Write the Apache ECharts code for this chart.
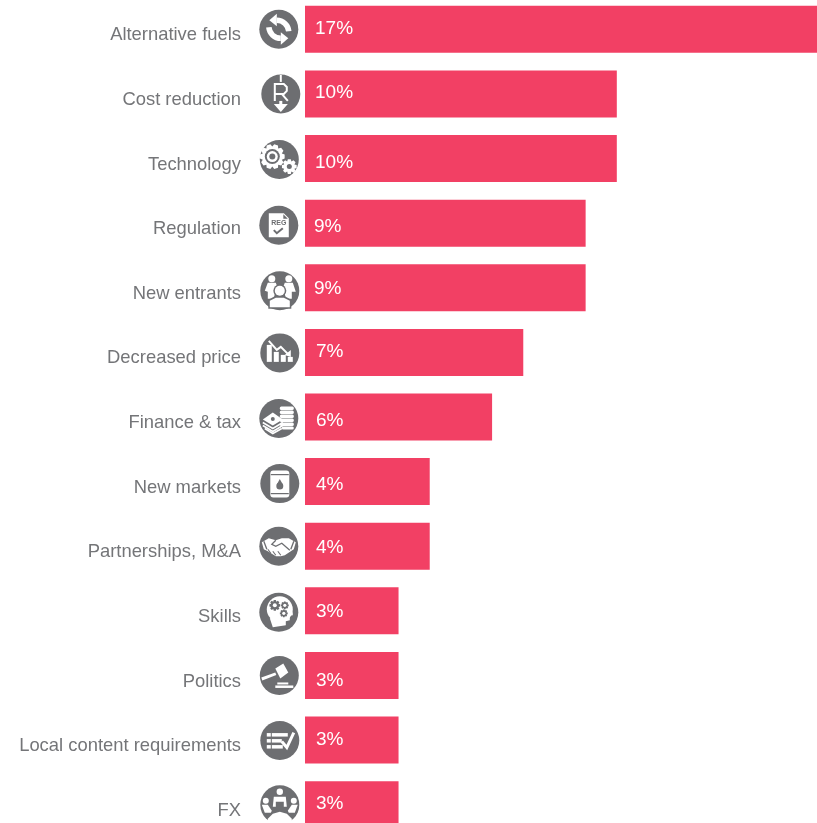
<!DOCTYPE html>
<html><head><meta charset="utf-8">
<style>html,body{margin:0;padding:0;background:#fff;overflow:hidden}#c{width:817px;height:823px}</style>
<script src="https://cdn.jsdelivr.net/npm/echarts@6/dist/echarts.min.js"></script>
</head><body><div id="c"></div>
<script>
const categories = ['Alternative fuels','Cost reduction','Technology','Regulation','New entrants','Decreased price','Finance & tax','New markets','Partnerships, M&A','Skills','Politics','Local content requirements','FX'];
const values = [17,10,10,9,9,7,6,4,4,3,3,3,3];
const labelNudgeY = [-1,-1,4.5,4,0.5,-1,4,3.5,2,0.5,5.7,0,-0.5];
const labelNudgeX = [0,0,0,-1,-1,1,1,1,1,1,1,1,1];
const iconNudge = [[0,0],[2,0],[0.5,1],[0,2],[1,3],[1,0.5],[0,1.5],[1,2],[0,0],[0,1.5],[0.5,0],[1,0.5],[1,0]];

const W='#fff', G='#6d6e71', PINK='#f24064';
const P=(pts,fill=W)=>({type:'polygon',shape:{points:pts},style:{fill}});
const R=(x,y,w,h,fill=W,r=0)=>({type:'rect',shape:{x,y,width:w,height:h,r},style:{fill}});
const C=(cx,cy,r,fill=W)=>({type:'circle',shape:{cx,cy,r},style:{fill}});
const L=(pts,lw=2,stroke=W)=>({type:'polyline',shape:{points:pts},style:{stroke,lineWidth:lw,fill:'none'}});
const A=(cx,cy,r,s,e,lw,stroke=W)=>({type:'arc',shape:{cx,cy,r,startAngle:s,endAngle:e,clockwise:true},style:{stroke,lineWidth:lw,fill:'none'}});
function gear(cx,cy,ro,ri,n,fill=W){
  const pts=[];
  for(let i=0;i<n;i++){
    const a=i/n*Math.PI*2, s=Math.PI/n;
    [[ri,-s],[ro,-s*0.5],[ro,s*0.5],[ri,s]].forEach(p=>pts.push([cx+p[0]*Math.cos(a+p[1]),cy+p[0]*Math.sin(a+p[1])]));
  }
  return P(pts,fill);
}
const D=Math.PI/180;
const icons=[
 // swap arrows
 [A(-2,3,12,-90*D,-5*D,5.5),P([[-2,-15.5],[-2,-3],[-9.5,-9]]),A(2,-3,12,90*D,175*D,5.5),P([[2,15.5],[2,3],[9.5,9]])],
 // R with arrow
 [L([[0,-19],[0,-12]],2),L([[-6,7],[-6,-10],[3,-10],[6,-7],[6,-3],[3,0],[-6,0]],2),L([[1,0],[7,7]],2),R(-1.5,7,3,4),P([[-7,10],[7,10],[0,18]])],
 // gears
 [gear(-7,-3,12.5,10,10),C(-7,-3,7.5,G),C(-7,-3,5.5),C(-7,-3,3,G),gear(10,7,7.5,5.5,8),C(10,7,2.5,G)],
 // document
 [P([[-10,-12],[5,-12],[10,-7],[10,12],[-10,12]]),P([[4.5,-11],[9,-6.5],[4.5,-6.5]],G),
  {type:'text',style:{text:'REG',x:0,y:-2,fill:G,font:'bold 7px "Liberation Sans"',align:'center',verticalAlign:'middle'}},
  L([[-5,5],[-2,8],[4,3]],2,G)],
 // people
 [C(-8,-12,3.5),C(9,-12,3.5),P([[-12,-8],[-4,-8],[-1,0],[-5,3],[-6,8],[-12,8],[-12,1],[-15,0]]),P([[5,-8],[13,-8],[16,1],[12,1],[12,8],[6,8],[5,3],[2,0]]),
  C(0,0,6.5,G),C(0,0,5),P([[-11.5,18],[-11.5,9],[-5,5.5],[5,5.5],[11.5,9],[11.5,18]],G),P([[-10,16.5],[-10,10],[-4,7],[4,7],[10,10],[10,16.5]])],
 // falling chart
 [R(-13,-8,5,17),R(-6,-1,5,10),R(1,2,5,7),R(8,4,5,5),L([[-11,-12],[-3,-3],[1,-6],[9,2]],2),P([[5,2],[11,-3],[11,4]])],
 // money and coins
 [R(1,-12,14,3.5,W,1.5),R(1,-8,14,3.5,W,1.5),R(1,-4,14,3.5,W,1.5),R(1,0,14,3.5,W,1.5),R(1,4,14,3.5,W,1.5),
  R(3,8,12,3,W,1.5),P([[-16,1],[-6,-6],[4,1],[-6,7]]),C(-6,0.5,2,G),L([[-16,4],[-6,10],[4,4]],1.6),L([[-16,7],[-6,13],[4,7]],1.6),L([[-14,10],[-6,15],[3,10]],1.6)],
 // barrel
 [R(-9.5,-13,19,27,W,3),L([[-9,-9],[9,-9]],1.2,G),L([[-9,10],[9,10]],1.2,G),C(0,2.5,3.5,G),P([[-3,1],[3,1],[0,-4.5]],G)],
 // handshake
 [P([[-17,-4],[-10,-8],[-3,-6],[3,-8],[10,-8],[17,-4],[15,3],[6,9],[2,10],[-3,10],[-11,5],[-15,3]]),
  L([[-3,-6],[-7,-2],[-3,0],[3,-3],[11,4]],1.3,G),L([[-11,3],[-8,7]],1.1,G),L([[-6,5],[-3,9]],1.1,G),L([[-1,5],[2,9]],1.1,G),L([[-15,-5],[-12,3]],1.3,G),L([[15,-5],[12,3]],1.3,G)],
 // head with gears
 [C(1,-3,13),P([[-9,6],[7,4],[14,3],[14,1],[11,-6],[11,8],[7,9],[7,13],[-6,15]]),
  gear(-4,-7,5.5,4,8,G),C(-4,-7,2),gear(6,-7,4,3,8,G),C(6,-7,1.6),gear(5,1,4,3,8,G),C(5,1,1.6)],
 // gavel
 [P([[-4,-7],[4,-12],[9,-3],[1,3]]),P([[-18,2],[-4,-3],[-3,-0.5],[-17,5]]),R(-2,7,11,2),R(-4,10,18,2.5)],
 // checklist
 [R(-13,-7.5,4,3.5),R(-13,-1.5,4,3.5),R(-13,4.5,4,3.5),R(-8,-7.5,16,3.5),R(-8,-1.5,10,3.5),R(-8,4.5,11,3.5),L([[2,1],[7,7],[14,-8]],3)],
 // meeting
 [C(0,-13,3.2),C(-14,-4,3),C(14,-4,3),P([[-6,-8],[6,-8],[7,2],[4,2],[4,-3],[-4,-3],[-4,2],[-7,2]]),
  P([[-18,0],[-12,0],[-8,6],[-9,8],[-15,8]]),P([[18,0],[12,0],[8,6],[9,8],[15,8]]),
  P([[-12,14],[-7,9],[0,7],[7,9],[12,14],[12,20],[-12,20]])]
];

const chart=echarts.init(document.getElementById('c'),null,{renderer:'canvas'});
chart.setOption({
  animation:false,
  backgroundColor:'#fff',
  grid:{left:305,top:-3,width:512,height:840,containLabel:false,outerBoundsMode:'none'},
  xAxis:{type:'value',min:0,max:16.42,show:false},
  yAxis:{type:'category',inverse:true,data:categories,
    axisLine:{show:false},axisTick:{show:false},splitLine:{show:false},
    axisLabel:{margin:64,fontFamily:'"Liberation Sans",Arial,sans-serif',fontSize:18.4,color:'#747578',verticalAlign:'top',lineHeight:12}},
  series:[
   {type:'bar',data:values,barWidth:47,clip:true,itemStyle:{color:PINK},
    label:{show:true,position:'insideLeft',distance:10,color:'#fff',fontFamily:'"Liberation Sans",Arial,sans-serif',fontSize:19,
      formatter:p=>p.value+'%'},
    labelLayout:p=>({dx:labelNudgeX[p.dataIndex],dy:labelNudgeY[p.dataIndex]})},
   {type:'custom',silent:true,clip:false,z:5,encode:{x:0,y:1},
    data:categories.map((c,i)=>[0,i]),
    renderItem:(params,api)=>{
      const i=params.dataIndex, c=api.coord([0,i]);
      return {type:'group',x:c[0]-26.2+iconNudge[i][0],y:c[1]+iconNudge[i][1],
        children:[C(0,0,19.5,G)].concat(icons[i])};
    }}
  ]
});
</script></body></html>
